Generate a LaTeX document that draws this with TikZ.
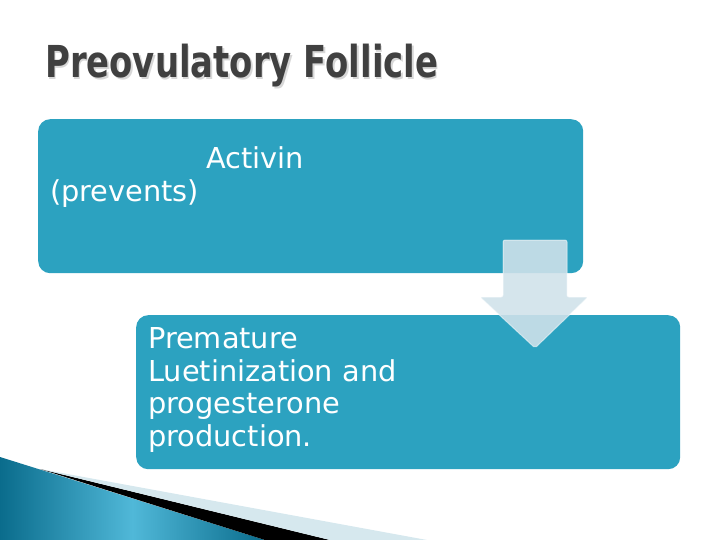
\documentclass[tikz,border=0pt]{standalone}
\usepackage{fontspec}
\setmainfont{DejaVu Sans}
\usetikzlibrary{positioning}
\definecolor{panelteal}{RGB}{44,162,192}
\definecolor{titlegray}{RGB}{64,64,64}
\definecolor{shadowgray}{RGB}{215,215,215}
\definecolor{arrowfill}{RGB}{208,226,234}
\definecolor{swooshlight}{RGB}{214,232,238}
\definecolor{swooshdark}{RGB}{10,108,140}
\definecolor{swooshmid}{RGB}{80,184,216}
\newcommand{\slidetitle}{\scalebox{0.77}[1]{Preovulatory Follicle}}
\tikzset{
  panel/.style={fill=panelteal, rounded corners=12pt, inner sep=0pt, anchor=north west},
  titletext/.style={anchor=base west, inner sep=0pt, font=\fontsize{44}{48}\selectfont\bfseries},
  bodytext/.style={text=white, inner sep=0pt, anchor=base west, align=left,
    font=\fontsize{28.8}{32.5}\selectfont},
}
\begin{document}
\begin{tikzpicture}[x=1pt, y=-1pt]
\useasboundingbox (0,0) rectangle (720,540);
% title
\node[titletext, text=shadowgray] (titleshadow) at (46.5,79.5) {\slidetitle};
\node[titletext, text=titlegray] (title) at (45,78) {\slidetitle};
% the two panels
\node[panel, minimum width=545pt, minimum height=154pt] (upper) at (38,119) {};
\node[panel, minimum width=544pt, minimum height=154pt] (lower) at (136,315) {};
% the down arrow between them
\path[fill=arrowfill, fill opacity=0.89, draw=white, draw opacity=0.5, line width=1pt, rounded corners=2pt]
  (503,240) -- (567,240) -- (567,297) -- (588,297) -- (535,348) -- (480,297) -- (503,297) -- cycle;
% texts (base of a multi-line node is its last line)
\node[bodytext] (activin) at (206,169) {Activin};
\node[bodytext] (prevents) at (50,202) {(prevents)};
\node[bodytext] (effect) at (148,446) {Premature\\Luetinization and\\progesterone\\production.};
% swoosh in the corner
\shade[left color=swooshdark, right color=swooshdark, middle color=swooshmid] (0,457) -- (265,540) -- (0,540) -- cycle;
\fill[black] (40,469) -- (330,540) -- (265,540) -- cycle;
\fill[swooshlight] (40,469) -- (427,540) -- (330,540) -- cycle;
\end{tikzpicture}
\end{document}
